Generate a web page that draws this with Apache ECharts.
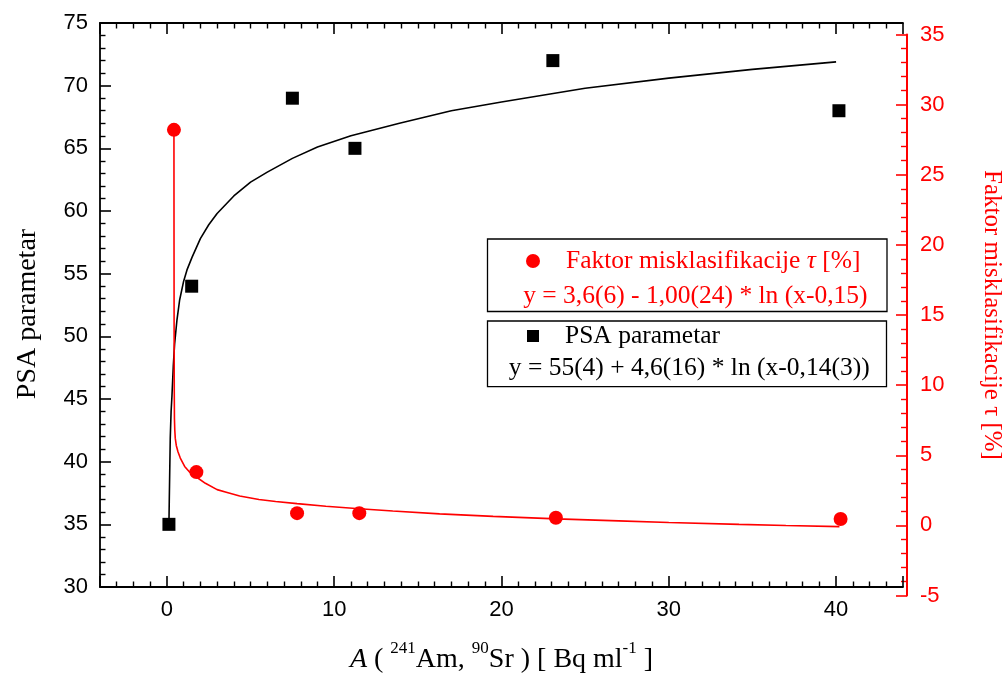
<!DOCTYPE html>
<html>
<head>
<meta charset="utf-8">
<script src="https://cdn.jsdelivr.net/npm/echarts@6/dist/echarts.min.js"></script>
<style>
html,body{margin:0;padding:0;background:#fff;}
#chart{width:1008px;height:676px;}
</style>
</head>
<body>
<div id="chart"></div>
<script>
// ---- data ----
const psaName = 'PSA parametar';
const tauName = 'Faktor misklasifikacije τ [%]';
const psaX = [0.12, 1.48, 7.5, 11.24, 23.07, 40.17];
const psaY = [35, 54, 69, 65, 72, 68];
const tauX = [0.42, 1.76, 7.78, 11.5, 23.25, 40.27];
const tauY = [28.2, 3.8, 0.87, 0.87, 0.54, 0.45];
// fitted curves
const psaFitX = [0.12, 0.14, 0.16, 0.2, 0.25, 0.3, 0.38, 0.46, 0.6, 0.76, 1.0, 1.2, 1.5, 2.0, 2.5, 3.0, 4.0, 5.0, 6.0, 7.5, 9.0, 11.0, 13.9, 17.0, 20.0, 25.0, 30.0, 35.0, 40.0];
const psaFitY = [35.0, 36.8, 38.5, 41.9, 44.0, 45.2, 47.6, 49.4, 51.3, 52.9, 54.4, 55.3, 56.3, 57.8, 58.9, 59.8, 61.2, 62.3, 63.1, 64.2, 65.1, 66.0, 67.0, 68.0, 68.7, 69.8, 70.6, 71.3, 71.9];
const tauFitX = [0.42, 0.425, 0.43, 0.44, 0.45, 0.47, 0.5, 0.56, 0.66, 0.8, 1.06, 1.35, 1.76, 2.3, 3.0, 3.6, 4.35, 5.5, 6.5, 7.78, 9.5, 11.5, 13.5, 16.3, 19.5, 23.3, 27.0, 30.0, 34.2, 37.0, 40.2];
const tauFitY = [28.2, 20.0, 14.0, 9.5, 7.6, 6.8, 6.2, 5.7, 5.25, 4.8, 4.2, 3.8, 3.45, 3.0, 2.55, 2.35, 2.1, 1.85, 1.7, 1.55, 1.36, 1.18, 1.02, 0.82, 0.64, 0.46, 0.32, 0.2, 0.07, -0.01, -0.09];
const tauEquation = 'y = 3,6(6) - 1,00(24) * ln (x-0,15)';
const psaEquation = 'y = 55(4) + 4,6(16) * ln (x-0,14(3))';
const xRange = [-4, 44];
const leftRange = [30, 75];
const rightRange = [-5, 35];

function pairs(xs, ys){ return xs.map((x,i)=>[x, ys[i]]); }

const RED = '#ff0000';
const SANS = '"Liberation Sans", Arial, sans-serif';
const SERIF = '"Liberation Serif", "Times New Roman", serif';

const chart = echarts.init(document.getElementById('chart'), null, {renderer:'canvas'});

const xCommon = {
  type:'value', min:xRange[0], max:xRange[1], splitNumber:5,
  axisLine:{show:true, onZero:false, lineStyle:{color:'#000', width:1.8}},
  axisTick:{show:true, inside:true, length:11, lineStyle:{color:'#000', width:1.6}},
  minorTick:{show:true, splitNumber:10, length:5.5, lineStyle:{color:'#000', width:1.4}},
  splitLine:{show:false}, minorSplitLine:{show:false}
};

const option = {
  animation:false,
  backgroundColor:'#fff',
  grid:[
    {left:100, right:105, top:23, bottom:89, containLabel:false, outerBoundsMode:'none'},
    {left:100, right:105, top:34.5, bottom:80.5, containLabel:false, outerBoundsMode:'none'}
  ],
  xAxis:[
    Object.assign({}, xCommon, {
      gridIndex:0, position:'bottom',
      axisLabel:{show:true, margin:12, fontSize:22, fontFamily:SANS, color:'#000', showMinLabel:false, showMaxLabel:false},
      name:'{i|A}{n| ( }{s|241}{n|Am, }{s|90}{n|Sr ) [ Bq ml}{s|-1}{n| ]}',
      nameLocation:'middle', nameGap:53,
      nameTextStyle:{
        rich:{
          i:{fontFamily:SERIF, fontSize:28, fontStyle:'italic', color:'#000', lineHeight:40},
          n:{fontFamily:SERIF, fontSize:28, color:'#000', lineHeight:40},
          s:{fontFamily:SERIF, fontSize:17, color:'#000', lineHeight:12, verticalAlign:'top'}
        }
      }
    }),
    Object.assign({}, xCommon, {
      gridIndex:0, position:'top',
      axisLabel:{show:false}
    }),
    {type:'value', gridIndex:1, min:xRange[0], max:xRange[1], show:false, axisLine:{onZero:false}}
  ],
  yAxis:[
    {
      type:'value', gridIndex:0, position:'left', min:leftRange[0], max:leftRange[1], interval:5,
      axisLine:{show:true, onZero:false, lineStyle:{color:'#000', width:1.8}},
      axisTick:{show:true, inside:true, length:11, lineStyle:{color:'#000', width:1.6}},
      minorTick:{show:true, splitNumber:5, length:5.5, lineStyle:{color:'#000', width:1.4}},
      splitLine:{show:false},
      axisLabel:{margin:12, fontSize:22, fontFamily:SANS, color:'#000'},
      name:psaName, nameLocation:'middle', nameGap:58,
      nameTextStyle:{fontFamily:SERIF, fontSize:28, color:'#000', padding:[0,18,0,0]}
    },
    {
      type:'value', gridIndex:1, position:'right', offset:4, min:rightRange[0], max:rightRange[1], interval:5,
      axisLine:{show:true, onZero:false, lineStyle:{color:RED, width:2}},
      axisTick:{show:true, inside:true, length:11, lineStyle:{color:RED, width:1.6}},
      minorTick:{show:true, splitNumber:5, length:6, lineStyle:{color:RED, width:1.4}},
      splitLine:{show:false},
      axisLabel:{margin:13, fontSize:22, fontFamily:SANS, color:RED},
      name:tauName, nameLocation:'middle', nameGap:72, nameRotate:-90,
      nameTextStyle:{fontFamily:SERIF, fontSize:25, color:RED}
    }
  ],
  legend:[
    {
      data:[{name:tauName, icon:'circle'}], selectedMode:false,
      left:526, top:248, padding:0, itemWidth:14, itemHeight:14,
      formatter:function(){ return '{sp|}{r|Faktor misklasifikacije }{t|τ}{r| [%]}'; },
      textStyle:{color:RED, rich:{
        sp:{width:21},
        r:{fontFamily:SERIF, fontSize:25.5, color:RED, lineHeight:30},
        t:{fontFamily:SERIF, fontSize:25.5, fontStyle:'italic', color:RED, lineHeight:30}
      }}
    },
    {
      data:[{name:psaName, icon:'rect'}], selectedMode:false,
      left:527, top:323, padding:0, itemWidth:12, itemHeight:12,
      formatter:function(name){ return '{sp|}{b|' + name + '}'; },
      textStyle:{color:'#000', rich:{
        sp:{width:21},
        b:{fontFamily:SERIF, fontSize:25.5, color:'#000', lineHeight:30}
      }}
    }
  ],
  graphic:[
    {type:'rect', shape:{x:487.5, y:239, width:399.5, height:72.5}, style:{fill:'none', stroke:'#000', lineWidth:1.3}, z:10},
    {type:'rect', shape:{x:487.5, y:321, width:399, height:65.7}, style:{fill:'none', stroke:'#000', lineWidth:1.3}, z:10},
    {type:'text', x:695.4, y:296.7, z:10, style:{text:tauEquation, fill:RED, font:'25.5px ' + SERIF, textAlign:'center', textVerticalAlign:'middle'}},
    {type:'text', x:689.2, y:368.3, z:10, style:{text:psaEquation, fill:'#000', font:'25.5px ' + SERIF, textAlign:'center', textVerticalAlign:'middle'}}
  ],
  series:[
    {
      name:'psaFit', type:'line', xAxisIndex:0, yAxisIndex:0, data:pairs(psaFitX, psaFitY),
      showSymbol:false, symbol:'none', smooth:false,
      lineStyle:{color:'#000', width:1.6}, z:2, silent:true
    },
    {
      name:'tauFit', type:'line', xAxisIndex:2, yAxisIndex:1, data:pairs(tauFitX, tauFitY),
      showSymbol:false, symbol:'none', smooth:false,
      lineStyle:{color:RED, width:1.6}, z:2, silent:true
    },
    {
      name:psaName, type:'scatter', xAxisIndex:0, yAxisIndex:0, data:pairs(psaX, psaY),
      symbol:'rect', symbolSize:13, itemStyle:{color:'#000', opacity:1}, z:5
    },
    {
      name:tauName, type:'scatter', xAxisIndex:2, yAxisIndex:1, data:pairs(tauX, tauY),
      symbol:'circle', symbolSize:14, itemStyle:{color:RED, opacity:1}, z:5
    }
  ]
};
chart.setOption(option);
</script>
</body>
</html>
